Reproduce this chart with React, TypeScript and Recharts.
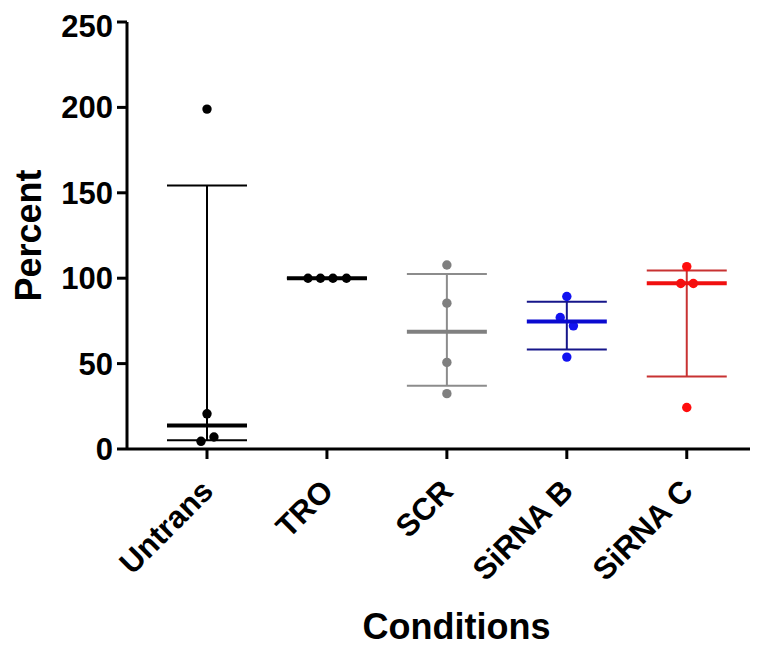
import { ScatterChart, Scatter, XAxis, YAxis, ErrorBar } from 'recharts';

const categories = ['Untrans', 'TRO', 'SCR', 'SiRNA B', 'SiRNA C'];
const yTicks = [0, 50, 100, 150, 200, 250];

// individual replicate values (x = category index + small jitter)
const untransPoints = [
  { x: 0, y: 199 },
  { x: 0, y: 20.6 },
  { x: -0.05, y: 4.5 },
  { x: 0.058, y: 7 },
];
const troPoints = [
  { x: 0.842, y: 100 },
  { x: 0.946, y: 100 },
  { x: 1.05, y: 100 },
  { x: 1.163, y: 100 },
];
const scrPoints = [
  { x: 2, y: 107.7 },
  { x: 2, y: 85.4 },
  { x: 2, y: 50.7 },
  { x: 2, y: 32.4 },
];
const sirnaBPoints = [
  { x: 3, y: 89.3 },
  { x: 2.945, y: 77 },
  { x: 3.055, y: 72.1 },
  { x: 3, y: 53.8 },
];
const sirnaCPoints = [
  { x: 4, y: 106.8 },
  { x: 3.95, y: 96.9 },
  { x: 4.055, y: 96.9 },
  { x: 4, y: 24.3 },
];

// median with interquartile range per group
const medians = [13.8, 100, 68.6, 74.7, 97.1];
const q1 = [5.1, 100, 37.0, 58.3, 42.5];
const q3 = [154.3, 100, 102.4, 86.2, 104.5];

const groups = [
  { points: untransPoints, dot: '#000000', line: '#000000', median: '#000000' },
  { points: troPoints, dot: '#000000', line: '#000000', median: '#000000' },
  { points: scrPoints, dot: '#7f7f7f', line: '#8c8c8c', median: '#808080' },
  { points: sirnaBPoints, dot: '#1212f0', line: '#16168a', median: '#0a0ad0' },
  { points: sirnaCPoints, dot: '#ff0d0d', line: '#c83232', median: '#f01010' },
];

const FONT = '"Liberation Sans", Arial, Helvetica, sans-serif';

const XTick = (props: any) => {
  const { x, y, payload } = props;
  const ax = x + 8;
  const ay = y + 32;
  return (
    <text
      x={ax}
      y={ay}
      textAnchor="end"
      transform={`rotate(-45, ${ax}, ${ay})`}
      fontFamily={FONT}
      fontWeight="bold"
      fontSize={31}
      fill="#000"
    >
      {categories[payload.value]}
    </text>
  );
};

const medianShape = (color: string) => (p: any) => (
  <line x1={p.cx - 40} x2={p.cx + 40} y1={p.cy} y2={p.cy} stroke={color} strokeWidth={4} />
);

const dotShape = (color: string) => (p: any) => <circle cx={p.cx} cy={p.cy} r={4.7} fill={color} />;

export default function App() {
  return (
    <div style={{ width: 750, height: 638 }}>
      <ScatterChart width={750} height={638} margin={{ top: 14, right: 0, bottom: 0, left: 0 }}>
        <XAxis
          type="number"
          dataKey="x"
          domain={[-0.667, 4.594]}
          ticks={[0, 1, 2, 3, 4]}
          allowDataOverflow
          interval={0}
          height={197}
          stroke="#000"
          strokeWidth={3}
          tickSize={10}
          tickLine={{ stroke: '#000', strokeWidth: 3 }}
          tick={<XTick />}
          label={{
            content: (lp: any) => {
              const vb = lp.viewBox;
              return (
                <text
                  x={vb.x + vb.width / 2 + 14}
                  y={618}
                  textAnchor="middle"
                  dominantBaseline="central"
                  fontFamily={FONT}
                  fontWeight="bold"
                  fontSize={36}
                  fill="#000"
                >
                  Conditions
                </text>
              );
            },
          }}
        />
        <YAxis
          type="number"
          dataKey="y"
          domain={[0, 250]}
          ticks={yTicks}
          width={119}
          stroke="#000"
          strokeWidth={3}
          tickSize={10}
          tickMargin={4}
          tickLine={{ stroke: '#000', strokeWidth: 3 }}
          tick={{ fill: '#000', fontFamily: FONT, fontWeight: 'bold', fontSize: 31 }}
          label={{
            content: (lp: any) => {
              const vb = lp.viewBox;
              const cx = 20;
              const cy = vb.y + vb.height / 2;
              return (
                <text
                  x={cx}
                  y={cy}
                  textAnchor="middle"
                  dominantBaseline="central"
                  transform={`rotate(-90, ${cx}, ${cy})`}
                  fontFamily={FONT}
                  fontWeight="bold"
                  fontSize={36}
                  fill="#000"
                >
                  Percent
                </text>
              );
            },
          }}
        />
        {groups.map((g, i) => (
          <Scatter
            key={`pts-${i}`}
            data={g.points}
            isAnimationActive={false}
            shape={dotShape(g.dot)}
          />
        ))}
        {groups.map((g, i) => (
          <Scatter
            key={`med-${i}`}
            data={[{ x: i, y: medians[i], err: [medians[i] - q1[i], q3[i] - medians[i]] }]}
            isAnimationActive={false}
            shape={medianShape(g.median)}
          >
            <ErrorBar
              dataKey="err"
              direction="y"
              width={40}
              stroke={g.line}
              strokeWidth={2}
              isAnimationActive={false}
            />
          </Scatter>
        ))}
      </ScatterChart>
    </div>
  );
}
